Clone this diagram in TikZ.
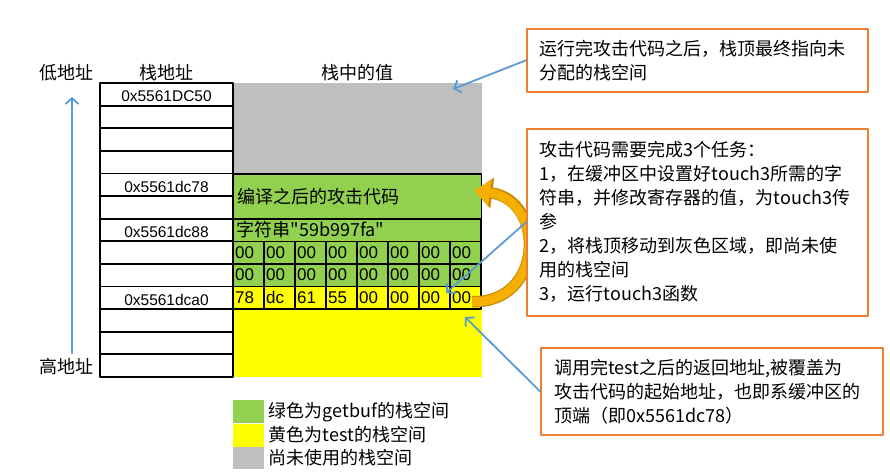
\documentclass[tikz,border=0pt]{standalone}
\usepackage{fontspec}
\setmainfont{Liberation Sans}
\newfontfamily\cjk{Noto Sans CJK SC}
\usetikzlibrary{arrows.meta,positioning}
\definecolor{stackgreen}{HTML}{92D050}
\definecolor{stackyellow}{HTML}{FFFF00}
\definecolor{stackgray}{HTML}{BFBFBF}
\definecolor{noteblue}{HTML}{5B9BD5}
\definecolor{noteorange}{HTML}{ED7D31}
\definecolor{jumpgold}{HTML}{F5AF00}
\definecolor{jumpdark}{HTML}{C98A08}
\begin{document}
\begin{tikzpicture}[x=1pt, y=-1pt, line join=round, line cap=round,
	cn/.style={font=\cjk\fontsize{18}{24}\selectfont},
	addr/.style={font=\fontsize{15.5}{18}\selectfont},
	byte/.style={font=\fontsize{17}{20}\selectfont, anchor=west, inner sep=1pt},
	note/.style={cn, draw=noteorange, line width=1.6pt, fill=white, align=left, inner xsep=12pt, inner ysep=0pt, anchor=north west, text width=315pt},
	pointer/.style={draw=noteblue, line width=1.8pt, -{Straight Barb[length=6pt,width=13pt]}},
	key/.style={minimum width=31pt, minimum height=23pt, inner sep=0pt, anchor=north west}]
	\useasboundingbox (0,0) rectangle (890,471);
	\def\xa{100}\def\xb{233}\def\xc{481}\def\ytop{83}\def\h{22.6}
	% stack fills
	\fill[stackgray] (\xb,\ytop) rectangle (\xc+1,\ytop+4*\h);
	\fill[stackgreen] (\xb,\ytop+4*\h) rectangle (\xc,\ytop+9*\h);
	\fill[stackyellow] (\xb,\ytop+9*\h) rectangle (\xc+1,\ytop+13*\h);
	% value cells
	\node[cn, draw, line width=1.4pt, minimum width=248pt, minimum height=45.2pt, anchor=north west, text width=240pt, inner xsep=3pt, align=left] (code) at (\xb,\ytop+4*\h) {编译之后的攻击代码};
	\draw[line width=1.4pt] (\xb,\ytop+6*\h) rectangle (\xc,\ytop+7*\h);
	\node[cn, anchor=west] (str) at (\xb,\ytop+6.5*\h) {字符串"59b997fa"};
	\foreach \r in {7,8,9}\foreach \c in {0,...,7}\draw[line width=1.4pt] (\xb+\c*31,\ytop+\r*\h) rectangle ++(31,\h);
	\foreach \r in {7,8}\foreach \c in {0,...,7}\node[byte] (pad\r\c) at (\xb+1+\c*31,\ytop+\r*\h+0.5*\h) {00};
	\foreach \v [count=\c from 0] in {78,dc,61,55,00,00,00,00}\node[byte] (ret\c) at (\xb+1+\c*31,\ytop+9.5*\h) {\v};
	% address column
	\foreach \i in {0,...,12}\draw[line width=1.8pt] (\xa,\ytop+\i*\h) rectangle (\xb,\ytop+\i*\h+\h);
	\node[addr] (a50) at (166.5,\ytop+0.5*\h+2) {0x5561DC50};
	\node[addr] (a78) at (166.5,\ytop+4.5*\h+2) {0x5561dc78};
	\node[addr] (a88) at (166.5,\ytop+6.5*\h+2) {0x5561dc88};
	\node[addr] (aa0) at (166.5,\ytop+9.5*\h+2) {0x5561dca0};
	% headings
	\node[cn] (low) at (66.5,73) {低地址};
	\node[cn] (addrhead) at (166.5,73) {栈地址};
	\node[cn] (valhead) at (357.5,73) {栈中的值};
	\node[cn] (high) at (66.5,367) {高地址};
	\draw[pointer, shorten <=2pt, shorten >=12pt] ([xshift=5.5pt]high.north) -- ([xshift=5.5pt]low.south);
	% jump back to the code
	\draw[line width=11.5pt, line cap=butt, jumpdark, -{Triangle[length=18pt,width=30pt]}] ([yshift=-4pt]ret7.east) .. controls (545,303) and (545,200) .. ([xshift=-8pt,yshift=6pt]code.east);
	\draw[line width=9pt, line cap=butt, jumpgold, -{Triangle[length=15.5pt,width=26pt]}] ([yshift=-4pt]ret7.east) .. controls (545,303) and (545,200) .. ([xshift=-8pt,yshift=6pt]code.east);
	% notes
	\node[note, minimum width=341pt, minimum height=63pt] (note1) at (526,28) {运行完攻击代码之后，栈顶最终指向未\\分配的栈空间};
	\node[note, minimum width=341pt, minimum height=187pt] (note2) at (526,128) {攻击代码需要完成3个任务：\\1，在缓冲区中设置好touch3所需的字\\符串，并修改寄存器的值，为touch3传\\参\\2，将栈顶移动到灰色区域，即尚未使\\用的栈空间\\3，运行touch3函数};
	\node[note, minimum width=342pt, minimum height=87pt] (note3) at (540,347) {调用完test之后的返回地址,被覆盖为\\攻击代码的起始地址，也即系缓冲区的\\顶端（即0x5561dc78）};
	\coordinate (graytop) at (453,89);
	\coordinate (lastbyte) at (446,293);
	\coordinate (yellowtop) at (465,317);
	\draw[pointer] (note1.west) -- (graytop);
	\draw[pointer] (note2.west) -- (lastbyte);
	\draw[pointer] (note3.west) -- (yellowtop);
	% legend
	\node[key, fill=stackgreen] (keygreen) at (233,400) {};
	\node[key, fill=stackyellow, below=0pt of keygreen] (keyyellow) {};
	\node[key, fill=stackgray, below=0pt of keyyellow, minimum height=22pt] (keygray) {};
	\node[cn, right=1pt of keygreen] (txtgreen) {绿色为getbuf的栈空间};
	\node[cn, right=1pt of keyyellow] (txtyellow) {黄色为test的栈空间};
	\node[cn, right=1pt of keygray] (txtgray) {尚未使用的栈空间};
\end{tikzpicture}
\end{document}
